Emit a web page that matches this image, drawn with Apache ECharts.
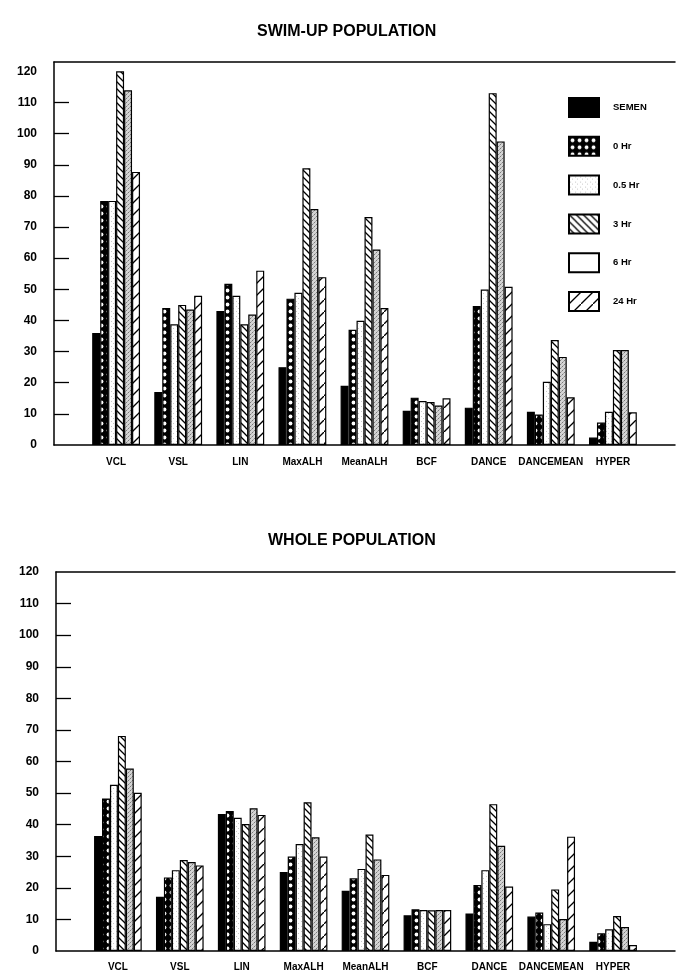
<!DOCTYPE html>
<html>
<head>
<meta charset="utf-8">
<script src="https://cdn.jsdelivr.net/npm/echarts@6/dist/echarts.min.js"></script>
<style>
html,body{margin:0;padding:0;background:#fff;}
#chart{width:678px;height:972px;}
</style>
</head>
<body>
<div id="chart"></div>
<script>
const categories = ['VCL','VSL','LIN','MaxALH','MeanALH','BCF','DANCE','DANCEMEAN','HYPER'];
const seriesNames = ['SEMEN','0 Hr','0.5 Hr','3 Hr','6 Hr','24 Hr'];
const yTicks = [0,10,20,30,40,50,60,70,80,90,100,110,120];
const yTickMarks = [10,20,30,40,50,60,70,80,90,100,110];

// SWIM-UP POPULATION
const semenSwim = [36, 17, 43, 25, 19, 11, 12, 10.7, 2.4];
const hr0Swim   = [78.4, 44, 51.8, 47, 37, 15.2, 44.6, 9.8, 7.2];
const hr05Swim  = [78.4, 38.8, 47.9, 48.9, 39.9, 14.1, 49.9, 20.3, 10.7];
const hr3Swim   = [120, 45, 38.8, 88.9, 73.2, 13.8, 113, 33.7, 30.5];
const hr6Swim   = [113.9, 43.5, 41.9, 75.8, 62.8, 12.7, 97.5, 28.3, 30.5];
const hr24Swim  = [87.7, 47.9, 56, 53.9, 44, 15, 50.8, 15.3, 10.5];

// WHOLE POPULATION
const semenWhole = [36.4, 17.2, 43.4, 25, 19.1, 11.3, 11.9, 10.9, 2.9];
const hr0Whole   = [48.3, 23.3, 44.3, 29.9, 23, 13.2, 20.9, 12.2, 5.6];
const hr05Whole  = [52.6, 25.6, 42.2, 33.9, 26, 13, 25.6, 8.5, 6.9];
const hr3Whole   = [68.1, 28.8, 40.2, 47.1, 36.9, 12.9, 46.5, 19.5, 11.1];
const hr6Whole   = [57.8, 28.2, 45.2, 36, 29, 13, 33.3, 10.1, 7.6];
const hr24Whole  = [50.1, 27.1, 43.1, 29.9, 24.1, 13, 20.4, 36.2, 1.9];

const swimData = [semenSwim, hr0Swim, hr05Swim, hr3Swim, hr6Swim, hr24Swim];
const wholeData = [semenWhole, hr0Whole, hr05Whole, hr3Whole, hr6Whole, hr24Whole];

function tile(w, h, draw) {
  const c = document.createElement('canvas');
  c.width = w; c.height = h;
  const ctx = c.getContext('2d');
  draw(ctx, w, h);
  return { image: c, repeat: 'repeat' };
}
const patterns = [
  '#000000',
  tile(7, 7, (ctx, w, h) => {
    ctx.fillStyle = '#000'; ctx.fillRect(0, 0, w, h);
    ctx.fillStyle = '#fff'; ctx.beginPath(); ctx.arc(3.5, 3.5, 1.9, 0, Math.PI * 2); ctx.fill();
  }),
  tile(5, 5, (ctx, w, h) => {
    ctx.fillStyle = '#fff'; ctx.fillRect(0, 0, w, h);
    ctx.fillStyle = '#c8c8c8'; ctx.fillRect(1, 1, 1, 1); ctx.fillRect(3, 3, 1, 1);
  }),
  tile(7, 7, (ctx, w, h) => {
    ctx.fillStyle = '#fff'; ctx.fillRect(0, 0, w, h);
    ctx.strokeStyle = '#000'; ctx.lineWidth = 1.3;
    ctx.beginPath();
    ctx.moveTo(-1, -1); ctx.lineTo(w + 1, h + 1);
    ctx.moveTo(-1, h - 1); ctx.lineTo(1, h + 1);
    ctx.moveTo(w - 1, -1); ctx.lineTo(w + 1, 1);
    ctx.stroke();
  }),
  tile(4, 4, (ctx, w, h) => {
    ctx.fillStyle = '#d4d4d4'; ctx.fillRect(0, 0, w, h);
    ctx.fillStyle = '#7a7a7a'; ctx.fillRect(0, 0, 1, 1); ctx.fillRect(2, 2, 1, 1);
    ctx.fillStyle = '#a8a8a8'; ctx.fillRect(1, 3, 1, 1); ctx.fillRect(3, 1, 1, 1);
  }),
  tile(12, 12, (ctx, w, h) => {
    ctx.fillStyle = '#fff'; ctx.fillRect(0, 0, w, h);
    ctx.strokeStyle = '#000'; ctx.lineWidth = 1.3;
    ctx.beginPath();
    ctx.moveTo(-1, h + 1); ctx.lineTo(w + 1, -1);
    ctx.stroke();
  })
];

const padCats = [''].concat(categories, ['']);
const pad = arr => [null].concat(arr, [null]);
const FONT = 'Liberation Sans, Arial, sans-serif';

function xAxes(gridIndex, labelMargin) {
  return [
    {
      type: 'category', gridIndex, data: padCats, boundaryGap: false,
      axisLine: { lineStyle: { color: '#000', width: 1.5 } },
      axisTick: { show: false },
      axisLabel: { interval: 0, margin: labelMargin, color: '#000', fontFamily: FONT, fontWeight: 'bold', fontSize: 10 },
      splitLine: { show: false }
    },
    {
      type: 'category', gridIndex, data: padCats, boundaryGap: false, position: 'top',
      axisLine: { lineStyle: { color: '#000', width: 1.5 } },
      axisTick: { show: false }, axisLabel: { show: false }, splitLine: { show: false }
    }
  ];
}
function yAxis(gridIndex, max) {
  return {
    type: 'value', gridIndex, min: 0, max, interval: 10,
    axisLine: { show: true, lineStyle: { color: '#000', width: 1.5 } },
    axisTick: { show: true, inside: true, length: 15, customValues: yTickMarks, lineStyle: { color: '#000', width: 1.3 } },
    axisLabel: {
      margin: 17, color: '#000', fontFamily: FONT, fontWeight: 'bold', fontSize: 12,
      customValues: yTicks,
      formatter: v => (yTicks.indexOf(v) >= 0 ? String(v) : '')
    },
    splitLine: { show: false }
  };
}

const series = [];
[swimData, wholeData].forEach((set, g) => {
  set.forEach((arr, i) => {
    series.push({
      name: seriesNames[i], type: 'bar', xAxisIndex: g * 2, yAxisIndex: g,
      data: pad(arr),
      barGap: '0%', barCategoryGap: '23%',
      itemStyle: { color: patterns[i], borderColor: '#000', borderWidth: 1.2 },
      emphasis: { disabled: true },
      animation: false
    });
  });
});

const chart = echarts.init(document.getElementById('chart'), null, { renderer: 'canvas' });
chart.setOption({
  backgroundColor: '#fff',
  animation: false,
  title: [
    { text: 'SWIM-UP POPULATION', left: 252, top: 19, textStyle: { fontFamily: FONT, fontWeight: 'bold', fontSize: 16, color: '#000' } },
    { text: 'WHOLE POPULATION', left: 263, top: 528, textStyle: { fontFamily: FONT, fontWeight: 'bold', fontSize: 16, color: '#000' } }
  ],
  legend: {
    orient: 'vertical', left: 568, top: 97, padding: 0,
    icon: 'rect',
    itemWidth: 30, itemHeight: 19, itemGap: 17.8,
    selectedMode: false,
    textStyle: { fontFamily: FONT, fontWeight: 'bold', fontSize: 9.5, color: '#000', padding: [0, 0, 0, 9] },
    data: seriesNames.map((n, i) => (i === 4 ? { name: n, itemStyle: { color: '#fff' } } : n))
  },
  grid: [
    { left: 54, top: 62, width: 634, height: 383 },
    { left: 56, top: 572, width: 627.5, height: 379 }
  ],
  xAxis: xAxes(0, 12).concat(xAxes(1, 11)),
  yAxis: [yAxis(0, 123), yAxis(1, 120)],
  series
});
</script>
</body>
</html>
